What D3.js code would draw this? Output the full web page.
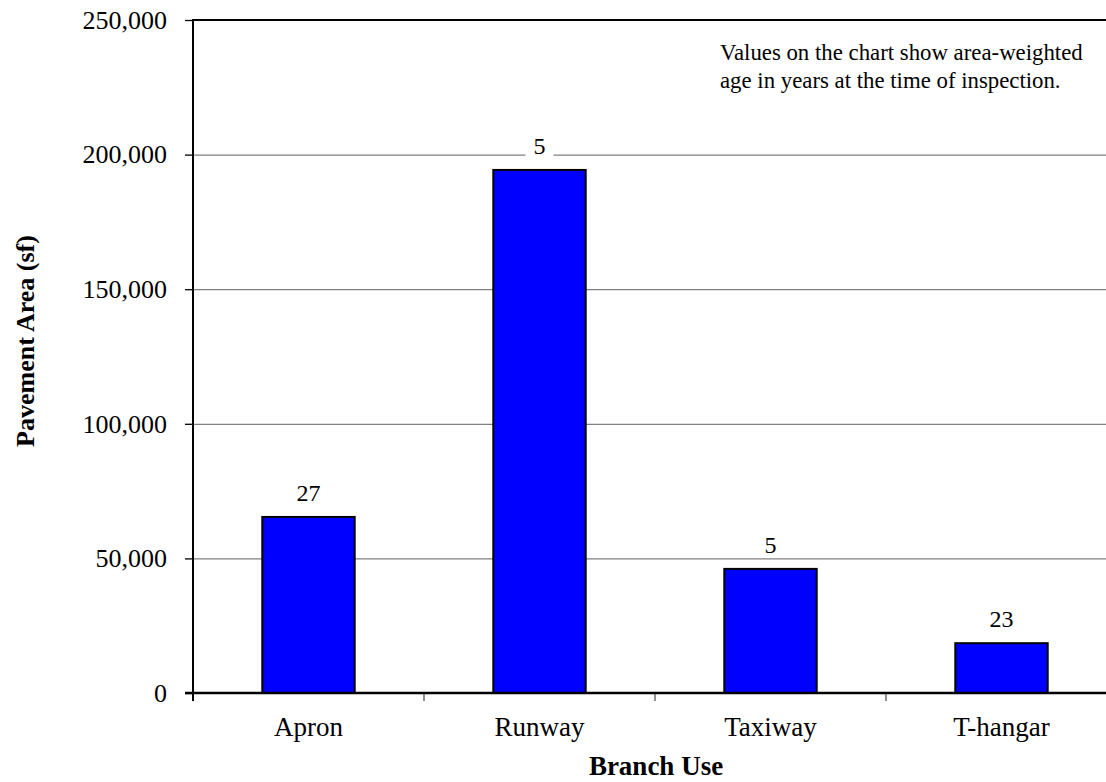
<!DOCTYPE html>
<html>
<head>
<meta charset="utf-8">
<script src="https://cdn.jsdelivr.net/npm/d3@7"></script>
<style>
  body { margin: 0; background: #fff; }
</style>
</head>
<body>
<div id="chart"></div>
<script>
// data
const categories = ['Apron', 'Runway', 'Taxiway', 'T-hangar'];
const areas = [65400, 194300, 46100, 18500];
const ages = [27, 5, 5, 23];
const yTicks = [0, 50000, 100000, 150000, 200000, 250000];
const noteLines = ['Values on the chart show area-weighted', 'age in years at the time of inspection.'];

const width = 1106, height = 782;
const plotLeft = 193, plotTop = 20, plotRight = 1117, plotBottom = 693;
const serif = '"Liberation Serif", "Times New Roman", serif';

const svg = d3.select('#chart').append('svg')
    .attr('width', width)
    .attr('height', height)
    .attr('font-family', serif)
    .style('display', 'block')
    .style('overflow', 'hidden');

const x = d3.scaleBand().domain(categories).range([plotLeft, plotRight]).padding(0);
const y = d3.scaleLinear().domain([0, 250000]).range([plotBottom, plotTop]);

// gridlines
svg.append('g')
    .attr('transform', `translate(${plotLeft},0)`)
    .call(d3.axisLeft(y).tickValues(yTicks.slice(1, -1)).tickSize(-(plotRight - plotLeft)).tickFormat(''))
    .call(g => g.select('.domain').remove())
    .call(g => g.selectAll('line').attr('stroke', '#808080').attr('stroke-width', 1.3));

// top border of plot area
svg.append('line')
    .attr('x1', plotLeft).attr('x2', plotRight)
    .attr('y1', y(250000)).attr('y2', y(250000))
    .attr('stroke', '#000').attr('stroke-width', 2);

// y axis
svg.append('g')
    .attr('transform', `translate(${plotLeft},0)`)
    .call(d3.axisLeft(y).tickValues(yTicks).tickFormat(d3.format(',')).tickSize(8).tickPadding(18).tickSizeOuter(0))
    .attr('font-family', serif)
    .call(g => g.select('.domain').remove())
    .call(g => g.selectAll('line').attr('stroke', '#000').attr('stroke-width', 1.3))
    .call(g => g.selectAll('text').attr('font-size', 26).attr('fill', '#000'));

// bars
const barW = x.bandwidth() * 0.4;
svg.append('g')
    .selectAll('rect')
    .data(categories)
    .join('rect')
    .attr('x', d => x(d) + (x.bandwidth() - barW) / 2)
    .attr('y', (d, i) => y(areas[i]))
    .attr('width', barW)
    .attr('height', (d, i) => y(0) - y(areas[i]))
    .attr('fill', '#0000ff')
    .attr('stroke', '#000')
    .attr('stroke-width', 2);

// x axis: labels
svg.append('g')
    .attr('transform', `translate(0,${plotBottom})`)
    .call(d3.axisBottom(x).tickSize(0).tickPadding(24))
    .attr('font-family', serif)
    .call(g => g.select('.domain').remove())
    .call(g => g.selectAll('text').attr('font-size', 27).attr('fill', '#000'));

// x axis: tick marks between categories
svg.append('g')
    .selectAll('line')
    .data(categories.slice(1))
    .join('line')
    .attr('x1', d => x(d)).attr('x2', d => x(d))
    .attr('y1', plotBottom).attr('y2', plotBottom + 8)
    .attr('stroke', '#555').attr('stroke-width', 1.3);

// axis lines
svg.append('line')
    .attr('x1', plotLeft).attr('x2', plotLeft)
    .attr('y1', plotTop - 1).attr('y2', plotBottom + 8)
    .attr('stroke', '#000').attr('stroke-width', 2);
svg.append('line')
    .attr('x1', plotLeft - 8).attr('x2', plotRight)
    .attr('y1', plotBottom).attr('y2', plotBottom)
    .attr('stroke', '#000').attr('stroke-width', 2.5);

// data labels with white box
const labels = svg.append('g')
    .selectAll('g')
    .data(categories)
    .join('g')
    .attr('transform', (d, i) => `translate(${x(d) + x.bandwidth() / 2},${y(areas[i]) - 16})`);
labels.append('rect')
    .attr('x', (d, i) => -(String(ages[i]).length * 6 + 8))
    .attr('y', -20)
    .attr('width', (d, i) => String(ages[i]).length * 12 + 16)
    .attr('height', 24)
    .attr('fill', '#fff');
labels.append('text')
    .attr('text-anchor', 'middle')
    .attr('font-family', serif)
    .attr('font-size', 24)
    .text((d, i) => ages[i]);

// note
const note = svg.append('text')
    .attr('x', 720)
    .attr('y', 60)
    .attr('font-family', serif)
    .attr('font-size', 22.8);
note.selectAll('tspan')
    .data(noteLines)
    .join('tspan')
    .attr('x', 720)
    .attr('dy', (d, i) => i === 0 ? 0 : 28)
    .text(d => d);

// axis titles
svg.append('text')
    .attr('x', (plotLeft + plotRight) / 2 + 1)
    .attr('y', 775)
    .attr('text-anchor', 'middle')
    .attr('font-size', 27)
    .attr('font-weight', 'bold')
    .text('Branch Use');

svg.append('text')
    .attr('transform', 'translate(34,341) rotate(-90)')
    .attr('text-anchor', 'middle')
    .attr('font-size', 26)
    .attr('font-weight', 'bold')
    .text('Pavement Area (sf)');
</script>
</body>
</html>
